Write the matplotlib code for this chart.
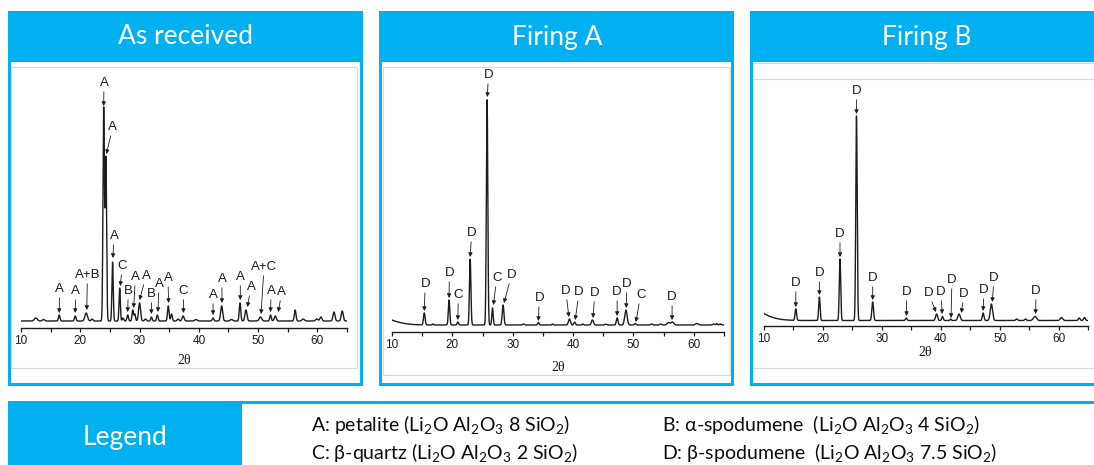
import numpy as np
import matplotlib
matplotlib.use("Agg")
import matplotlib.pyplot as plt
from matplotlib.patches import Rectangle

# ---------------------------------------------------------------- data
two_theta = np.linspace(10, 65, 2751)

# As received: peak position (2theta), peak intensity, peak width (sigma)
received_pos = [12.5, 13.8, 16.45, 19.15, 21.0, 22.0, 23.95, 24.32, 25.45, 26.65,
                27.2, 28.0, 28.85, 29.2, 30.0, 31.0, 32.0, 33.0, 34.85, 35.4,
                36.5, 37.35, 39.5, 42.4, 43.85, 45.5, 46.95, 47.95, 50.4, 52.1,
                52.9, 56.25, 57.6, 59.9, 60.6, 62.8, 64.2]
received_int = [10, 8.5, 13, 12, 15, 9, 220, 170, 66, 40,
                10, 13, 18, 14, 25, 9, 11, 13, 22, 14,
                9, 12, 8.5, 10, 22, 8.5, 25, 18, 11, 13,
                12, 18, 9, 9, 11, 16, 17]
received_wid = [0.25, 0.2, 0.13, 0.13, 0.22, 0.15, 0.12, 0.12, 0.11, 0.11,
                0.12, 0.13, 0.12, 0.12, 0.17, 0.15, 0.12, 0.13, 0.13, 0.13,
                0.15, 0.17, 0.2, 0.13, 0.17, 0.2, 0.13, 0.17, 0.22, 0.13,
                0.17, 0.14, 0.2, 0.2, 0.17, 0.17, 0.17]
received_base = 7.0

received_labels = ["A", "A", "A", "C", "A+B", "A", "A", "B", "A", "A", "B", "A",
                   "A", "C", "A", "A", "A", "A", "A+C", "A", "A"]
received_text_xy = [(24.0, 245), (25.5, 201), (25.7, 92), (27.1, 62), (21.2, 53),
                    (16.5, 39), (19.2, 37), (28.1, 37), (29.3, 51), (31.1, 52),
                    (32.0, 34), (33.3, 44), (34.8, 50), (37.4, 37), (42.4, 33),
                    (43.9, 49), (47.0, 51), (48.8, 41), (51.0, 61), (52.2, 37),
                    (54.0, 36)]
received_tip_xy = [(23.95, 222), (24.4, 174), (25.5, 70), (26.75, 42), (21.1, 18),
                   (16.45, 15), (19.15, 15), (28.0, 16), (29.0, 20), (30.0, 28),
                   (32.0, 14), (33.1, 16), (34.9, 25), (37.4, 15), (42.4, 13),
                   (43.9, 25), (47.0, 28), (48.2, 21), (50.5, 14), (52.1, 16),
                   (53.4, 16)]

# Firing A
firing_a_pos = [6.0, 15.35, 16.8, 19.45, 20.9, 22.95, 25.75, 26.65, 28.4, 31.8,
                34.25, 36.6, 39.4, 40.25, 41.6, 43.2, 45.4, 47.3, 48.75, 50.3,
                53.0, 54.5, 55.8, 56.45, 60.5, 63.3, 63.8, 64.4]
firing_a_int = [19, 19, 8, 32, 10, 73, 233, 24, 27, 8,
                9.5, 8, 13, 10, 8, 12, 7.8, 14, 22, 8.5,
                8, 8, 9.5, 10, 8.5, 8, 8.5, 8]
firing_a_wid = [3.0, 0.13, 0.1, 0.12, 0.12, 0.12, 0.12, 0.11, 0.14, 0.15,
                0.13, 0.1, 0.17, 0.13, 0.1, 0.17, 0.15, 0.14, 0.2, 0.15,
                0.15, 0.15, 0.22, 0.22, 0.22, 0.15, 0.12, 0.15]
firing_a_base = 7.0

firing_a_labels = ["D", "D", "D", "C", "D", "C", "D", "D", "D", "D", "D", "D",
                   "D", "C", "D"]
firing_a_text_xy = [(25.96, 257), (15.5, 48), (19.5, 59), (21.0, 37), (23.2, 99),
                    (27.35, 54), (29.8, 57), (34.4, 34), (38.8, 41), (41.0, 40),
                    (43.6, 39), (47.3, 40), (48.9, 48), (51.2, 37), (56.4, 35)]
firing_a_tip_xy = [(25.8, 235), (15.35, 21), (19.45, 34), (20.9, 12), (22.95, 75),
                   (26.8, 27), (28.55, 29), (34.25, 11), (39.3, 15), (40.35, 12),
                   (43.3, 14), (47.3, 16), (48.8, 24), (50.4, 10), (56.4, 12)]

# Firing B
firing_b_pos = [6.0, 15.4, 19.4, 22.9, 25.7, 28.45, 34.15, 39.3, 40.3, 41.7,
                43.1, 47.2, 48.6, 52.9, 54.4, 56.0, 60.5, 63.5, 64.4]
firing_b_int = [22, 17, 29, 67, 210, 24, 8, 12, 9.5, 7,
                12, 13, 22, 7, 7, 9.5, 8.5, 8, 8.5]
firing_b_wid = [3.0, 0.13, 0.12, 0.12, 0.12, 0.14, 0.13, 0.17, 0.13, 0.1,
                0.2, 0.14, 0.2, 0.15, 0.15, 0.27, 0.22, 0.15, 0.15]
firing_b_base = 5.5

firing_b_labels = ["D"] * 13
firing_b_text_xy = [(25.7, 235), (15.4, 43), (19.4, 53), (22.9, 92), (28.45, 48),
                    (34.2, 34), (37.9, 33), (40.05, 34), (41.9, 46), (43.96, 32),
                    (47.35, 36), (49.05, 48), (56.2, 35)]
firing_b_tip_xy = [(25.7, 212), (15.4, 19), (19.4, 31), (22.9, 69), (28.45, 26),
                   (34.2, 10), (39.2, 14), (40.25, 12), (41.75, 8), (43.5, 13),
                   (47.2, 15), (48.75, 24), (56.1, 12)]

panel_titles = ["As received", "Firing A", "Firing B"]
x_label = "2θ"

legend_title = "Legend"
legend_rows = [
    ("A: petalite (Li$_2$O Al$_2$O$_3$ 8 SiO$_2$)",
     "B: α-spodumene  (Li$_2$O Al$_2$O$_3$ 4 SiO$_2$)"),
    ("C: β-quartz (Li$_2$O Al$_2$O$_3$ 2 SiO$_2$)",
     "D: β-spodumene  (Li$_2$O Al$_2$O$_3$ 7.5 SiO$_2$)"),
]

# ---------------------------------------------------------------- style
W, H = 1094, 465
BLUE = "#00B0F0"
GRID = "#d9d9d9"
INK = "#1c1c1c"
plt.rcParams["mathtext.default"] = "regular"
plt.rcParams["mathtext.fontset"] = "custom"
plt.rcParams["mathtext.rm"] = "Lato"
SANS = ["Lato", "DejaVu Sans"]
PLOT_FONT = "Liberation Sans"

fig = plt.figure(figsize=(W / 100, H / 100), dpi=100)
fig.patch.set_facecolor("white")

bg = fig.add_axes([0, 0, 1, 1], zorder=0)
bg.set_xlim(0, W)
bg.set_ylim(H, 0)
bg.axis("off")


def rect(x, y, w, h, **kw):
    bg.add_patch(Rectangle((x, y), w, h, **kw))


def px_axes(x0, y0, x1, y1):
    return fig.add_axes([x0 / W, 1 - y1 / H, (x1 - x0) / W, (y1 - y0) / H], zorder=2)


def profile(pos, inten, wid, base):
    y = np.full_like(two_theta, base)
    for p, i, w in zip(pos, inten, wid):
        y += (i - base) * np.exp(-0.5 * ((two_theta - p) / w) ** 2)
    return y


# panel frames: (left, right, title centre x)
frames = [(8, 363, 185), (379, 734, 557), (750, 1100, 927)]
top, head_bottom, bottom, border = 11.5, 62, 385.5, 3
for (x0, x1, cx), title in zip(frames, panel_titles):
    rect(x0, top, x1 - x0, bottom - top, facecolor=BLUE, edgecolor="none")
    rect(x0 + border, head_bottom, x1 - x0 - 2 * border, bottom - head_bottom - border,
         facecolor="white", edgecolor="none")
    bg.text(cx, 37, title, color="white", fontsize=19, family=SANS,
            ha="center", va="center")

# thin grey outlines of the embedded plot images
rect(11, 67, 346, 301, facecolor="none", edgecolor=GRID, lw=0.8)
rect(383, 67, 347, 308, facecolor="none", edgecolor=GRID, lw=0.8)
for yy in (63, 79, 368):
    bg.plot([753, W], [yy, yy], color=GRID, lw=0.8)

# legend strip
rect(8, 401, W - 8, 3, facecolor=BLUE, edgecolor="none")
rect(8, 401, 234, 64, facecolor=BLUE, edgecolor="none")
bg.text(125, 437, legend_title, color="white", fontsize=19, family=SANS,
        ha="center", va="center")
for (left_txt, right_txt), yy in zip(legend_rows, (424, 452)):
    bg.text(311, yy, left_txt, fontsize=14, family=SANS, color="#0d0d0d",
            ha="left", va="center")
    bg.text(662, yy, right_txt, fontsize=14, family=SANS, color="#0d0d0d",
            ha="left", va="center")

# ---------------------------------------------------------------- XRD panels
panels = [
    dict(box=(21, 68, 347, 328), ymax=260, xlab_y=360, xlab_x=184,
         pos=received_pos, inten=received_int, wid=received_wid, base=received_base,
         labels=received_labels, text_xy=received_text_xy, tip_xy=received_tip_xy),
    dict(box=(392, 67, 724, 332), ymax=265, xlab_y=367, xlab_x=558,
         pos=firing_a_pos, inten=firing_a_int, wid=firing_a_wid, base=firing_a_base,
         labels=firing_a_labels, text_xy=firing_a_text_xy, tip_xy=firing_a_tip_xy),
    dict(box=(764, 79, 1088, 326), ymax=247, xlab_y=352, xlab_x=925,
         pos=firing_b_pos, inten=firing_b_int, wid=firing_b_wid, base=firing_b_base,
         labels=firing_b_labels, text_xy=firing_b_text_xy, tip_xy=firing_b_tip_xy),
]

for p in panels:
    ax = px_axes(*p["box"])
    ax.patch.set_alpha(0)
    ax.plot(two_theta, profile(p["pos"], p["inten"], p["wid"], p["base"]),
            color=INK, lw=1.0)
    ax.set_xlim(10, 65)
    ax.set_ylim(0, p["ymax"])
    for side in ("top", "left", "right"):
        ax.spines[side].set_visible(False)
    ax.spines["bottom"].set_linewidth(1.0)
    ax.spines["bottom"].set_color(INK)
    ax.set_yticks([])
    ax.set_xticks(np.arange(10, 61, 10))
    ax.set_xticks(np.arange(15, 66, 10), minor=True)
    ax.tick_params(axis="x", which="both", direction="out", length=3, width=0.9,
                   pad=2, labelsize=8.5, color=INK, labelcolor=INK)
    for lab in ax.get_xticklabels():
        lab.set_family(PLOT_FONT)
    for lbl, txy, tip in zip(p["labels"], p["text_xy"], p["tip_xy"]):
        ax.annotate(lbl, xy=tip, xytext=txy, ha="center", va="center",
                    fontsize=9.5, family=PLOT_FONT, color=INK, annotation_clip=False,
                    arrowprops=dict(arrowstyle="-|>", color=INK, lw=0.6,
                                    mutation_scale=6, shrinkA=0, shrinkB=0))
    bg.text(p["xlab_x"], p["xlab_y"], x_label, fontsize=10, family="Liberation Serif",
            color=INK, ha="center", va="center")

fig.savefig("out.png", dpi=100)
